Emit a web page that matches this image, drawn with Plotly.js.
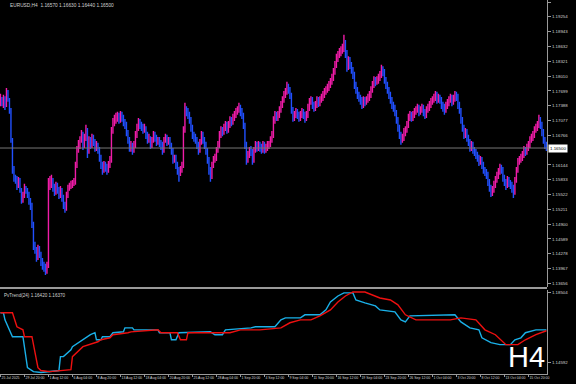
<!DOCTYPE html>
<html><head><meta charset="utf-8">
<script src="https://cdn.plot.ly/plotly-3.0.1.min.js"></script>
<style>html,body{margin:0;padding:0;background:#000;}#chart{width:576px;height:384px;}</style>
</head><body><div id="chart"></div>
<script>
const symbol = "EURUSD,H4";
const timeframe = "H4";
const labelEvery = 16;
const timeLabels = ["25 Jul 2025","29 Jul 20:00","1 Aug 12:00","6 Aug 04:00","8 Aug 20:00","13 Aug 12:00","18 Aug 04:00","20 Aug 20:00","25 Aug 12:00","28 Aug 04:00","1 Sep 20:00","4 Sep 12:00","9 Sep 04:00","11 Sep 20:00","16 Sep 12:00","19 Sep 04:00","23 Sep 20:00","26 Sep 12:00","1 Oct 04:00","3 Oct 20:00","8 Oct 12:00","13 Oct 04:00","15 Oct 20:00"];
const firstOpen = 1.1747;
const high = [
1.1764,1.1757,1.1762,1.1759,1.1776,1.1772,1.1755,1.1734,1.1671,1.1612,
1.1594,1.1591,1.1589,1.1587,1.1566,1.1558,1.1575,1.1570,1.1566,1.1558,
1.1545,1.1535,1.1495,1.1453,1.1442,1.1447,1.1444,1.1432,1.1419,1.1411,
1.1407,1.1411,1.1587,1.1591,1.1594,1.1587,1.1575,1.1579,1.1577,1.1568,
1.1570,1.1566,1.1552,1.1537,1.1558,1.1573,1.1577,1.1581,1.1583,1.1587,
1.1621,1.1654,1.1667,1.1675,1.1688,1.1684,1.1680,1.1699,1.1692,1.1675,
1.1673,1.1680,1.1678,1.1669,1.1665,1.1661,1.1652,1.1636,1.1621,1.1623,
1.1621,1.1617,1.1623,1.1633,1.1694,1.1713,1.1720,1.1724,1.1726,1.1724,
1.1728,1.1726,1.1720,1.1711,1.1705,1.1688,1.1673,1.1665,1.1661,1.1665,
1.1686,1.1701,1.1713,1.1711,1.1705,1.1701,1.1701,1.1696,1.1684,1.1680,
1.1675,1.1673,1.1686,1.1684,1.1678,1.1673,1.1673,1.1667,1.1663,1.1673,
1.1680,1.1678,1.1673,1.1673,1.1661,1.1650,1.1636,1.1636,1.1621,1.1610,
1.1612,1.1621,1.1696,1.1745,1.1738,1.1734,1.1726,1.1715,1.1699,1.1684,
1.1680,1.1673,1.1663,1.1669,1.1686,1.1684,1.1673,1.1663,1.1650,1.1631,
1.1610,1.1621,1.1633,1.1638,1.1652,1.1665,1.1686,1.1696,1.1694,1.1701,
1.1707,1.1705,1.1707,1.1717,1.1715,1.1722,1.1728,1.1734,1.1738,1.1745,
1.1741,1.1734,1.1724,1.1703,1.1663,1.1644,1.1652,1.1654,1.1648,1.1652,
1.1665,1.1663,1.1665,1.1663,1.1659,1.1665,1.1663,1.1659,1.1665,1.1665,
1.1675,1.1686,1.1717,1.1728,1.1726,1.1728,1.1738,1.1749,1.1759,1.1770,
1.1776,1.1789,1.1785,1.1778,1.1766,1.1736,1.1728,1.1734,1.1732,1.1726,
1.1728,1.1734,1.1732,1.1726,1.1728,1.1743,1.1755,1.1759,1.1757,1.1747,
1.1749,1.1759,1.1757,1.1759,1.1764,1.1770,1.1776,1.1780,1.1785,1.1791,
1.1797,1.1806,1.1818,1.1833,1.1848,1.1854,1.1860,1.1864,1.1869,1.1888,
1.1877,1.1856,1.1843,1.1841,1.1831,1.1820,1.1810,1.1789,1.1778,1.1768,
1.1762,1.1757,1.1759,1.1757,1.1759,1.1764,1.1770,1.1780,1.1791,1.1801,
1.1799,1.1801,1.1806,1.1812,1.1825,1.1822,1.1816,1.1799,1.1789,1.1778,
1.1768,1.1757,1.1747,1.1741,1.1730,1.1715,1.1699,1.1684,1.1680,1.1692,
1.1696,1.1707,1.1722,1.1728,1.1726,1.1728,1.1734,1.1738,1.1743,1.1741,
1.1738,1.1743,1.1741,1.1732,1.1738,1.1743,1.1749,1.1755,1.1759,1.1764,
1.1770,1.1768,1.1764,1.1762,1.1757,1.1747,1.1743,1.1747,1.1753,1.1759,
1.1764,1.1762,1.1762,1.1770,1.1768,1.1764,1.1747,1.1734,1.1715,1.1699,
1.1692,1.1690,1.1678,1.1669,1.1665,1.1663,1.1652,1.1648,1.1642,1.1636,
1.1633,1.1631,1.1621,1.1610,1.1606,1.1600,1.1585,1.1573,1.1570,1.1581,
1.1591,1.1600,1.1608,1.1617,1.1615,1.1610,1.1594,1.1585,1.1591,1.1589,
1.1583,1.1579,1.1573,1.1589,1.1610,1.1629,1.1633,1.1638,1.1644,1.1654,
1.1652,1.1659,1.1665,1.1675,1.1680,1.1686,1.1696,1.1701,1.1707,1.1720,
1.1715,1.1705,1.1690,1.1673,1.1663];
const low = [
1.1738,1.1738,1.1734,1.1730,1.1736,1.1747,1.1722,1.1661,1.1596,1.1579,
1.1575,1.1562,1.1566,1.1556,1.1533,1.1535,1.1545,1.1554,1.1545,1.1531,
1.1520,1.1482,1.1436,1.1428,1.1411,1.1415,1.1419,1.1402,1.1394,1.1390,
1.1383,1.1386,1.1398,1.1562,1.1566,1.1558,1.1549,1.1552,1.1554,1.1543,
1.1545,1.1537,1.1522,1.1514,1.1518,1.1545,1.1560,1.1564,1.1566,1.1570,
1.1573,1.1608,1.1640,1.1648,1.1661,1.1646,1.1650,1.1665,1.1629,1.1638,
1.1648,1.1650,1.1654,1.1642,1.1644,1.1638,1.1621,1.1606,1.1594,1.1598,
1.1600,1.1594,1.1598,1.1608,1.1619,1.1680,1.1696,1.1701,1.1705,1.1701,
1.1703,1.1705,1.1696,1.1690,1.1675,1.1659,1.1642,1.1642,1.1636,1.1640,
1.1650,1.1671,1.1686,1.1690,1.1686,1.1680,1.1682,1.1669,1.1659,1.1661,
1.1648,1.1650,1.1661,1.1663,1.1654,1.1657,1.1652,1.1646,1.1636,1.1640,
1.1661,1.1654,1.1657,1.1648,1.1636,1.1617,1.1619,1.1606,1.1594,1.1579,
1.1591,1.1598,1.1608,1.1682,1.1717,1.1711,1.1701,1.1684,1.1669,1.1663,
1.1659,1.1648,1.1636,1.1640,1.1657,1.1659,1.1648,1.1636,1.1617,1.1594,
1.1579,1.1585,1.1608,1.1619,1.1623,1.1640,1.1650,1.1671,1.1675,1.1678,
1.1686,1.1680,1.1682,1.1692,1.1696,1.1699,1.1707,1.1713,1.1720,1.1724,
1.1717,1.1711,1.1690,1.1648,1.1615,1.1619,1.1629,1.1633,1.1615,1.1619,
1.1640,1.1642,1.1644,1.1642,1.1638,1.1640,1.1638,1.1640,1.1644,1.1648,
1.1652,1.1661,1.1671,1.1701,1.1707,1.1707,1.1713,1.1724,1.1734,1.1745,
1.1755,1.1762,1.1764,1.1753,1.1722,1.1705,1.1707,1.1713,1.1711,1.1705,
1.1707,1.1713,1.1711,1.1703,1.1707,1.1713,1.1728,1.1741,1.1732,1.1726,
1.1728,1.1734,1.1736,1.1738,1.1745,1.1749,1.1755,1.1762,1.1766,1.1770,
1.1776,1.1783,1.1791,1.1804,1.1818,1.1831,1.1839,1.1843,1.1848,1.1852,
1.1839,1.1810,1.1814,1.1816,1.1806,1.1795,1.1774,1.1764,1.1753,1.1747,
1.1741,1.1732,1.1734,1.1738,1.1741,1.1745,1.1749,1.1755,1.1766,1.1776,
1.1780,1.1783,1.1785,1.1791,1.1797,1.1801,1.1785,1.1774,1.1764,1.1753,
1.1743,1.1732,1.1726,1.1717,1.1701,1.1684,1.1669,1.1657,1.1661,1.1665,
1.1675,1.1682,1.1692,1.1707,1.1705,1.1707,1.1713,1.1720,1.1724,1.1717,
1.1720,1.1724,1.1717,1.1711,1.1713,1.1724,1.1728,1.1734,1.1741,1.1745,
1.1749,1.1743,1.1745,1.1743,1.1732,1.1726,1.1720,1.1724,1.1732,1.1738,
1.1745,1.1738,1.1741,1.1747,1.1749,1.1732,1.1722,1.1701,1.1684,1.1669,
1.1671,1.1663,1.1654,1.1642,1.1644,1.1638,1.1633,1.1627,1.1621,1.1612,
1.1615,1.1606,1.1596,1.1591,1.1585,1.1570,1.1558,1.1547,1.1549,1.1556,
1.1566,1.1577,1.1585,1.1594,1.1596,1.1579,1.1570,1.1562,1.1566,1.1568,
1.1564,1.1556,1.1545,1.1552,1.1577,1.1598,1.1615,1.1619,1.1623,1.1629,
1.1633,1.1636,1.1644,1.1650,1.1661,1.1665,1.1671,1.1682,1.1686,1.1692,
1.1690,1.1675,1.1659,1.1648,1.1644];
const close = [
1.1751,1.1747,1.1755,1.1741,1.1762,1.1751,1.1730,1.1667,1.1604,1.1587,
1.1583,1.1573,1.1583,1.1562,1.1541,1.1552,1.1566,1.1562,1.1552,1.1541,
1.1531,1.1489,1.1447,1.1436,1.1419,1.1440,1.1426,1.1411,1.1404,1.1398,
1.1390,1.1404,1.1573,1.1579,1.1583,1.1566,1.1558,1.1573,1.1562,1.1552,
1.1562,1.1545,1.1531,1.1524,1.1552,1.1566,1.1570,1.1575,1.1577,1.1579,
1.1615,1.1646,1.1657,1.1667,1.1678,1.1657,1.1671,1.1688,1.1646,1.1667,
1.1657,1.1671,1.1663,1.1650,1.1657,1.1646,1.1629,1.1615,1.1604,1.1615,
1.1608,1.1604,1.1615,1.1625,1.1688,1.1705,1.1709,1.1713,1.1717,1.1709,
1.1720,1.1713,1.1705,1.1699,1.1684,1.1667,1.1650,1.1657,1.1646,1.1657,
1.1678,1.1692,1.1705,1.1699,1.1692,1.1688,1.1692,1.1678,1.1667,1.1671,
1.1657,1.1667,1.1678,1.1671,1.1663,1.1667,1.1661,1.1657,1.1646,1.1667,
1.1671,1.1663,1.1667,1.1657,1.1646,1.1625,1.1629,1.1615,1.1604,1.1600,
1.1604,1.1615,1.1688,1.1730,1.1726,1.1720,1.1709,1.1692,1.1678,1.1671,
1.1667,1.1657,1.1646,1.1663,1.1678,1.1667,1.1657,1.1646,1.1625,1.1604,
1.1594,1.1615,1.1625,1.1629,1.1646,1.1657,1.1678,1.1688,1.1684,1.1692,
1.1699,1.1688,1.1699,1.1709,1.1705,1.1713,1.1720,1.1726,1.1730,1.1734,
1.1726,1.1720,1.1699,1.1657,1.1625,1.1636,1.1646,1.1642,1.1625,1.1646,
1.1657,1.1650,1.1657,1.1650,1.1646,1.1657,1.1646,1.1650,1.1657,1.1661,
1.1667,1.1678,1.1709,1.1720,1.1713,1.1720,1.1730,1.1741,1.1751,1.1762,
1.1768,1.1776,1.1772,1.1762,1.1730,1.1713,1.1720,1.1726,1.1720,1.1713,
1.1720,1.1726,1.1720,1.1713,1.1720,1.1734,1.1747,1.1751,1.1741,1.1734,
1.1741,1.1751,1.1745,1.1751,1.1755,1.1762,1.1768,1.1772,1.1776,1.1783,
1.1789,1.1797,1.1810,1.1825,1.1839,1.1846,1.1852,1.1856,1.1860,1.1873,
1.1846,1.1825,1.1835,1.1825,1.1814,1.1804,1.1783,1.1772,1.1762,1.1755,
1.1751,1.1741,1.1751,1.1747,1.1751,1.1755,1.1762,1.1772,1.1783,1.1793,
1.1789,1.1793,1.1797,1.1804,1.1814,1.1810,1.1793,1.1783,1.1772,1.1762,
1.1751,1.1741,1.1734,1.1726,1.1709,1.1692,1.1678,1.1667,1.1671,1.1684,
1.1688,1.1699,1.1713,1.1720,1.1713,1.1720,1.1726,1.1730,1.1734,1.1726,
1.1730,1.1734,1.1726,1.1720,1.1730,1.1734,1.1741,1.1747,1.1751,1.1755,
1.1762,1.1751,1.1755,1.1751,1.1741,1.1734,1.1730,1.1738,1.1745,1.1751,
1.1755,1.1747,1.1753,1.1762,1.1757,1.1741,1.1730,1.1709,1.1692,1.1678,
1.1684,1.1671,1.1663,1.1650,1.1657,1.1646,1.1642,1.1636,1.1629,1.1621,
1.1625,1.1615,1.1604,1.1600,1.1594,1.1579,1.1566,1.1558,1.1562,1.1573,
1.1583,1.1591,1.1600,1.1608,1.1604,1.1587,1.1579,1.1573,1.1583,1.1577,
1.1573,1.1566,1.1558,1.1583,1.1604,1.1621,1.1625,1.1629,1.1636,1.1646,
1.1642,1.1650,1.1657,1.1667,1.1671,1.1678,1.1688,1.1692,1.1699,1.1709,
1.1699,1.1684,1.1667,1.1657,1.1650];
const priceTicks = [1.19565,1.19254,1.18943,1.18632,1.18321,1.18010,1.17699,1.17388,1.17077,1.16766,1.16144,1.15833,1.15522,1.15211,1.14900,1.14589,1.14278,1.13967,1.13656];
const indName = "PvTrend(24)";
const cyanIdx = [0,2,3,5,8,15,18,22,27,39,40,42,47,48,53,55,60,63,64,67,68,73,75,82,83,88,89,105,106,113,114,117,119,140,143,148,150,167,170,183,187,190,200,203,213,217,220,225,229,235,237,243,250,253,263,267,270,273,303,307,313,319,321,327,333,340,343,347,350,357,364];
const cyanVal = [1.1736,1.1736,1.1697,1.1659,1.1604,1.1604,1.1433,1.1411,1.1406,1.1417,1.1494,1.1494,1.1532,1.1549,1.1576,1.1587,1.1615,1.1626,1.1587,1.1587,1.1604,1.1604,1.1626,1.1631,1.1653,1.1653,1.1642,1.1642,1.1626,1.1626,1.1587,1.1587,1.1626,1.1631,1.1615,1.1615,1.1642,1.1653,1.1659,1.1659,1.1697,1.1708,1.1708,1.1725,1.1725,1.1752,1.1796,1.1829,1.1846,1.1846,1.1807,1.1791,1.1774,1.1752,1.1741,1.1697,1.1686,1.1719,1.1725,1.1686,1.1653,1.1642,1.1598,1.1571,1.1560,1.1560,1.1587,1.1598,1.1626,1.1642,1.1642];
const redIdx = [0,8,11,15,16,21,25,27,33,47,48,53,55,65,67,73,75,85,87,105,107,118,120,124,125,153,160,173,187,193,200,207,213,220,225,230,235,243,253,260,265,270,277,300,307,317,323,330,337,345,350,357,364];
const redVal = [1.1736,1.1736,1.1659,1.1642,1.1604,1.1604,1.1433,1.1417,1.1411,1.1422,1.1494,1.1532,1.1549,1.1576,1.1587,1.1598,1.1615,1.1626,1.1631,1.1642,1.1626,1.1626,1.1587,1.1587,1.1626,1.1626,1.1642,1.1642,1.1653,1.1681,1.1697,1.1697,1.1719,1.1752,1.1796,1.1829,1.1851,1.1851,1.1818,1.1807,1.1780,1.1725,1.1697,1.1697,1.1708,1.1697,1.1642,1.1615,1.1560,1.1560,1.1587,1.1615,1.1637];
const indTicks = [1.18504, 1.14592];

const n = close.length;
const idx = close.map((_, i) => i);
const open = close.map((c, i) => i === 0 ? firstOpen : close[i - 1]);
const last = n - 1;
const f5 = v => v.toFixed(5);
const txtFont = {family: 'Liberation Sans, Arial, sans-serif', size: 4.4, color: '#d2d2d2'};

const traces = [
  {type: 'ohlc', x: idx, open: open, high: high, low: low, close: close,
   xaxis: 'x', yaxis: 'y', tickwidth: 0.15, hoverinfo: 'skip',
   increasing: {line: {color: '#f01ca8', width: 1.4}},
   decreasing: {line: {color: '#2150ff', width: 1.4}}},
  {type: 'scatter', mode: 'lines', x: cyanIdx, y: cyanVal, xaxis: 'x', yaxis: 'y2',
   line: {color: '#1ab0e8', width: 1.4}, hoverinfo: 'skip', cliponaxis: false},
  {type: 'scatter', mode: 'lines', x: redIdx, y: redVal, xaxis: 'x', yaxis: 'y2',
   line: {color: '#ee1010', width: 1.4}, hoverinfo: 'skip', cliponaxis: false}
];

const axisCommon = {
  showgrid: false, zeroline: false, showline: true, linecolor: '#9a9a9a', linewidth: 1,
  ticks: 'outside', ticklen: 3, tickcolor: '#9a9a9a', tickfont: txtFont, fixedrange: true
};

const layout = {
  width: 576, height: 384,
  margin: {l: 0, r: 29, t: 0, b: 10, pad: 0},
  paper_bgcolor: '#000000', plot_bgcolor: '#000000', showlegend: false,
  xaxis: Object.assign({}, axisCommon, {
    anchor: 'y2', range: [-0.3, 364.4], tickangle: 0, ticklen: 2,
    tickfont: {family: 'Liberation Sans, Arial, sans-serif', size: 3.5, color: '#d2d2d2'},
    tickvals: timeLabels.map((_, k) => k * labelEvery), ticktext: timeLabels,
    ticklabelposition: 'outside right', rangeslider: {visible: false}
  }),
  yaxis: Object.assign({}, axisCommon, {
    domain: [0.2326, 1], range: [1.1358, 1.1961], side: 'right', anchor: 'x',
    tickvals: priceTicks, ticktext: priceTicks.map(f5)
  }),
  yaxis2: Object.assign({}, axisCommon, {
    domain: [0, 0.2246], range: [1.1398, 1.1862], side: 'right', anchor: 'x',
    tickvals: indTicks, ticktext: indTicks.map(f5)
  }),
  shapes: [
    {type: 'line', xref: 'paper', yref: 'y', x0: 0, x1: 1, y0: close[last], y1: close[last],
     line: {color: '#777777', width: 1}},
    {type: 'line', xref: 'paper', yref: 'paper', x0: 0, x1: 1, y0: 0.2299, y1: 0.2299,
     line: {color: '#9a9a9a', width: 2}}
  ],
  annotations: [
    {xref: 'paper', yref: 'paper', x: 0, y: 1, xanchor: 'left', yanchor: 'top', xshift: 8, yshift: -1,
     showarrow: false, font: Object.assign({}, txtFont, {size: 4.8}),
     text: symbol + '  ' + [open[last], high[last], low[last], close[last]].map(f5).join(' ')},
    {xref: 'paper', yref: 'y', x: 1, y: close[last], xanchor: 'left', yanchor: 'middle', xshift: 1,
     showarrow: false, bgcolor: '#ffffff', borderpad: 1,
     font: {family: 'Liberation Sans, Arial, sans-serif', size: 4.4, color: '#000000'},
     text: f5(close[last])},
    {xref: 'paper', yref: 'paper', x: 0, y: 0.2246, xanchor: 'left', yanchor: 'top', xshift: 2, yshift: -1,
     showarrow: false, font: Object.assign({}, txtFont, {size: 4.6}),
     text: indName + ' ' + f5(cyanVal[cyanVal.length - 1]) + ' ' + f5(redVal[redVal.length - 1])},
    {xref: 'paper', yref: 'paper', x: 0.962, y: 0.045, xanchor: 'center', yanchor: 'middle',
     showarrow: false, font: {family: 'Liberation Sans, Arial, sans-serif', size: 29, color: '#ffffff'},
     text: timeframe}
  ]
};

Plotly.newPlot('chart', traces, layout, {staticPlot: true, displayModeBar: false});
</script>
</body></html>
